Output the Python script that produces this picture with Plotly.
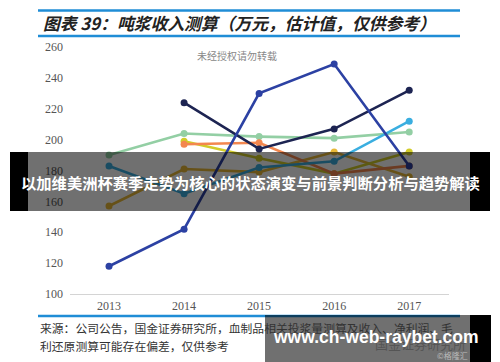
import plotly.graph_objects as go

years = [2013, 2014, 2015, 2016, 2017]
blue = [118, 142, 230, 249, 183]
navy = [None, 224, 194, 207, 232]
green = [190, 204, 202, 201, 205]
orange = [None, 197, 198, 178, 183]
yellow = [None, 199, 188, 178, 192]
gold = [157, 181, 179, 192, 176]
skyblue = [183, 165, 182, 186, 212]
y_ticks = [100, 120, 140, 160, 180, 200, 220, 240, 260]

data = [
    (green, "#93cfa4"),
    (gold, "#e8b838"),
    (yellow, "#d2cc2a"),
    (orange, "#f3874f"),
    (skyblue, "#3aaee0"),
    (navy, "#1d2452"),
    (blue, "#2c41a3"),
]

W, H = 500, 362
L, R, T, B = 70, 51, 44, 68
PW, PH = W - L - R, H - T - B


def px(x):
    return (x - L) / PW


def py(y):
    return (H - B - y) / PH


fig = go.Figure()
for vals, col in data:
    fig.add_trace(go.Scatter(
        x=years, y=vals, mode="lines+markers",
        line=dict(color=col, width=2.6),
        marker=dict(color=col, size=7),
        connectgaps=False, showlegend=False, hoverinfo="skip",
    ))

shapes = []
for yy in (10.5, 36, 316):
    shapes.append(dict(type="line", xref="paper", yref="paper",
                       x0=px(38), x1=px(460), y0=py(yy), y1=py(yy),
                       line=dict(color="#1f8dd6", width=2.5), layer="above"))
# banner overlay
shapes.append(dict(type="rect", xref="paper", yref="paper",
                   x0=px(28), x1=px(470), y0=py(211), y1=py(152),
                   fillcolor="rgba(0,0,0,0.56)", line=dict(width=0), layer="above"))
shapes.append(dict(type="rect", xref="paper", yref="paper",
                   x0=px(10), x1=px(28), y0=py(211), y1=py(152),
                   fillcolor="#000", line=dict(width=0), layer="above"))
shapes.append(dict(type="rect", xref="paper", yref="paper",
                   x0=px(470), x1=px(490), y0=py(211), y1=py(152),
                   fillcolor="#000", line=dict(width=0), layer="above"))
# bottom overlay
shapes.append(dict(type="rect", xref="paper", yref="paper",
                   x0=px(265), x1=px(470), y0=py(362), y1=py(315),
                   fillcolor="rgba(0,0,0,0.56)", line=dict(width=0), layer="above"))
shapes.append(dict(type="rect", xref="paper", yref="paper",
                   x0=px(470), x1=px(491), y0=py(362), y1=py(315),
                   fillcolor="#000", line=dict(width=0), layer="above"))

cjk = "Noto Sans CJK SC"


def note(text, x, y, size, color, anchor="left", family=cjk):
    fig.add_annotation(text=text, xref="paper", yref="paper", x=px(x), y=py(y),
                       xanchor=anchor, yanchor="middle", showarrow=False,
                       font=dict(family=family, size=size, color=color))


note("<b><i>图表 39：吨浆收入测算（万元，估计值，仅供参考）</i></b>", 41, 23, 16.8, "#222")
note("未经授权请勿转载", 237, 55, 10, "#888", "center")
note("来源：公司公告，国金证券研究所，血制品相关投浆量测算及收入、净利润、毛", 38, 327, 11.8, "#333")
note("利还原测算可能存在偏差，仅供参考", 38, 345, 11.8, "#333")
note("国金证券研究所", 420, 343, 13, "#555", "center")
note("©格隆汇", 452, 355, 8, "#bbb", "center")
note("<b>以加维美洲杯赛季走势为核心的状态演变与前景判断分析与趋势解读</b>", 250, 182, 15.3, "#fff", "center")
note("<b>www.ch-web-raybet.com</b>", 376, 337, 17.5, "#fff", "center", "Liberation Sans")

fig.update_layout(
    width=W, height=H,
    margin=dict(l=L, r=R, t=T, b=B),
    paper_bgcolor="white", plot_bgcolor="white",
    shapes=shapes,
    xaxis=dict(range=[2012.48, 2017.53], tickvals=years, ticktext=[str(y) for y in years],
               showgrid=False, zeroline=False, showline=True, linecolor="#d4d4d4", linewidth=1.2,
               ticks="", tickfont=dict(family="Liberation Serif", size=12, color="#555")),
    yaxis=dict(range=[100, 262], tickvals=y_ticks, showgrid=False, zeroline=False,
               showline=False, ticks="", ticklabelstandoff=6,
               tickfont=dict(family="Liberation Serif", size=12, color="#555")),
)

fig.write_html("out.html")
